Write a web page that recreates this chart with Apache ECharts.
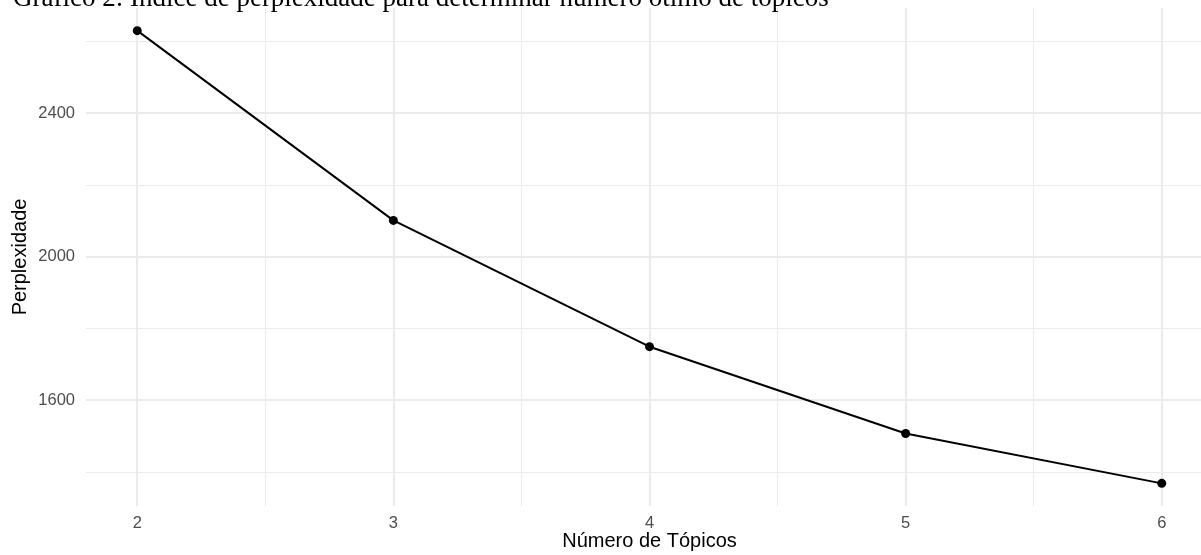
<!DOCTYPE html>
<html>
<head>
<meta charset="utf-8">
<script src="https://cdn.jsdelivr.net/npm/echarts@6/dist/echarts.min.js"></script>
<style>
  html, body { margin: 0; padding: 0; background: #ffffff; }
  #chart { width: 1201px; height: 555px; }
</style>
</head>
<body>
<div id="chart"></div>
<script>
// ---- data ----
const titleText = 'Gráfico 2: Índice de perplexidade para determinar número ótimo de tópicos';
const xTitle = 'Número de Tópicos';
const yTitle = 'Perplexidade';
const topics = [2, 3, 4, 5, 6];
const perplexity = [2630, 2101, 1749, 1507, 1368];
const xMajorTicks = [2, 3, 4, 5, 6];
const xMinorTicks = [2.5, 3.5, 4.5, 5.5];
const yMajorTicks = [1600, 2000, 2400];
const yMinorTicks = [1400, 1800, 2200, 2600];

// ggplot-style 5% expansion of the data range
const xSpan = Math.max(...topics) - Math.min(...topics);
const xMin = Math.min(...topics) - 0.05 * xSpan;
const xMax = Math.max(...topics) + 0.05 * xSpan;
const ySpan = Math.max(...perplexity) - Math.min(...perplexity);
const yMin = Math.min(...perplexity) - 0.05 * ySpan;
const yMax = Math.max(...perplexity) + 0.05 * ySpan;

const gridColor = '#ebebeb';
const labelColor = '#4d4d4d';
const sans = 'Liberation Sans, Arial, sans-serif';

const chart = echarts.init(document.getElementById('chart'), null, { renderer: 'canvas' });

const hiddenAxisParts = {
  axisLine: { show: false },
  axisLabel: { show: false },
  axisTick: { show: false },
};

const option = {
  animation: false,
  backgroundColor: '#ffffff',
  title: {
    text: titleText,
    left: 13,
    top: -15,
    padding: 0,
    textStyle: {
      fontFamily: 'Liberation Serif, Times New Roman, serif',
      fontSize: 27,
      lineHeight: 27,
      fontWeight: 'normal',
      color: '#000000'
    }
  },
  grid: { left: 86, top: 8, right: -12, bottom: 49, containLabel: false, outerBoundsMode: 'none' },
  xAxis: [
    {
      type: 'value',
      min: xMin,
      max: xMax,
      name: xTitle,
      nameLocation: 'middle',
      nameGap: 25,
      nameMoveOverlap: false,
      nameTextStyle: { fontFamily: sans, fontSize: 20, color: '#000000' },
      axisLine: { show: false },
      axisTick: { show: false, customValues: xMajorTicks },
      axisLabel: {
        customValues: xMajorTicks,
        formatter: v => String(v),
        color: labelColor, fontFamily: sans, fontSize: 16.5, margin: 9
      },
      splitLine: { show: true, lineStyle: { color: gridColor, width: 2 } }
    },
    Object.assign({
      type: 'value',
      min: xMin,
      max: xMax,
      position: 'top',
      splitLine: { show: true, lineStyle: { color: gridColor, width: 1 } }
    }, hiddenAxisParts, { axisTick: { show: false, customValues: xMinorTicks } })
  ],
  yAxis: [
    {
      type: 'value',
      min: yMin,
      max: yMax,
      name: yTitle,
      nameLocation: 'middle',
      nameGap: 56,
      nameMoveOverlap: false,
      nameTextStyle: { fontFamily: sans, fontSize: 20, color: '#000000' },
      axisLine: { show: false },
      axisTick: { show: false, customValues: yMajorTicks },
      axisLabel: {
        customValues: yMajorTicks,
        formatter: v => String(v),
        color: labelColor, fontFamily: sans, fontSize: 16.5, margin: 11
      },
      splitLine: { show: true, lineStyle: { color: gridColor, width: 2 } }
    },
    Object.assign({
      type: 'value',
      min: yMin,
      max: yMax,
      position: 'right',
      splitLine: { show: true, lineStyle: { color: gridColor, width: 1 } }
    }, hiddenAxisParts, { axisTick: { show: false, customValues: yMinorTicks } })
  ],
  series: [
    {
      type: 'line',
      data: topics.map((t, i) => [t, perplexity[i]]),
      xAxisIndex: 0,
      yAxisIndex: 0,
      z: 10,
      lineStyle: { color: '#000000', width: 2 },
      itemStyle: { color: '#000000' },
      symbol: 'circle',
      symbolSize: 9,
      showSymbol: true
    }
  ]
};

chart.setOption(option);
</script>
</body>
</html>
